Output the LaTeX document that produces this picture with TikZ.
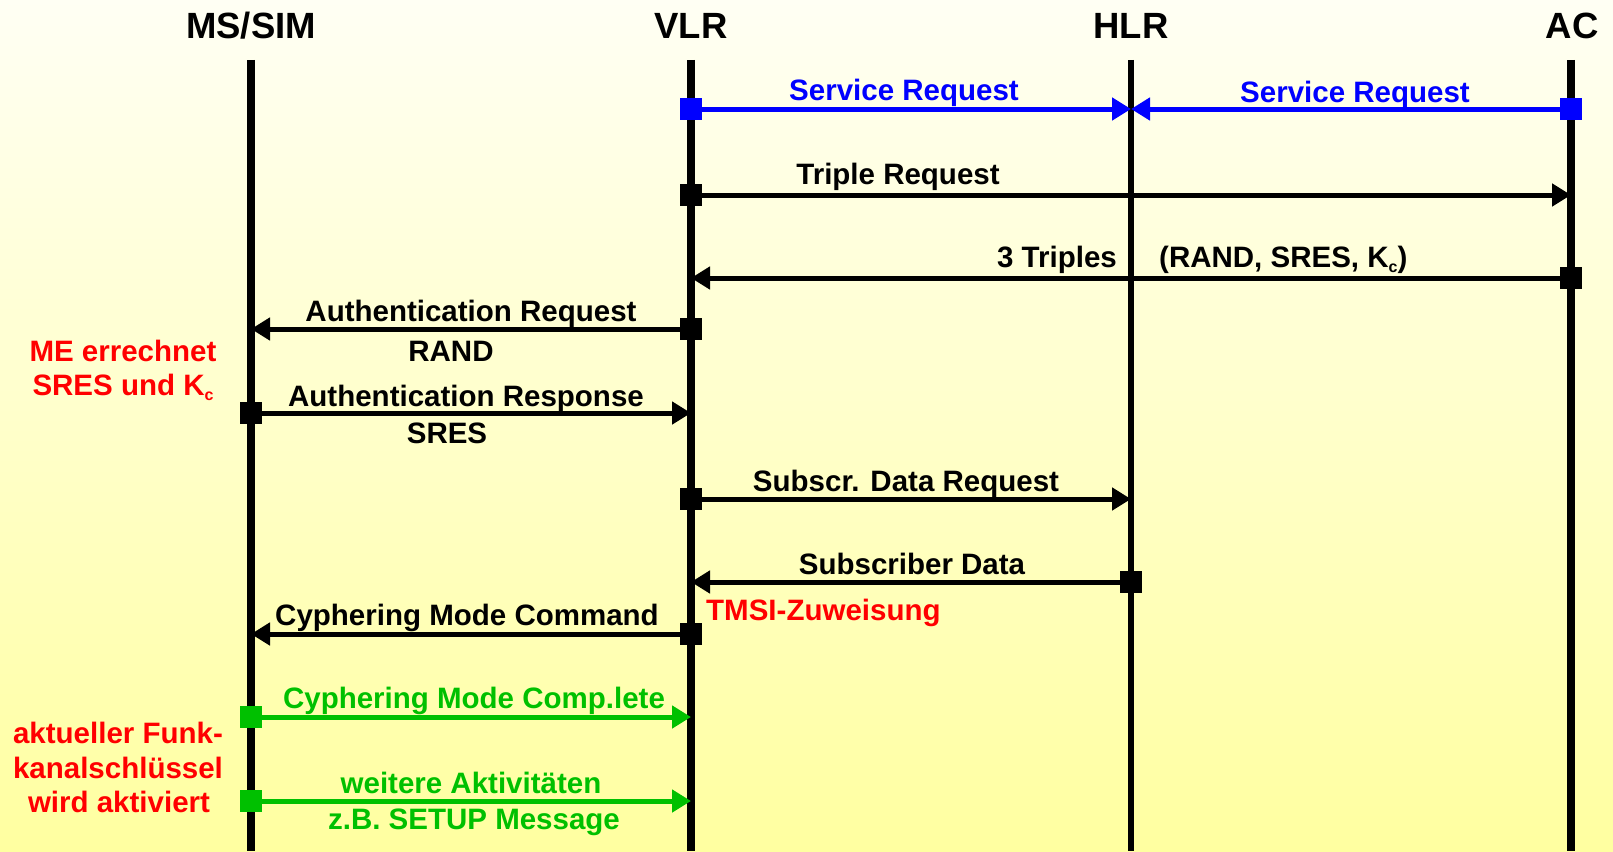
\documentclass[tikz,border=0pt]{standalone}
\usepackage{fontspec}
\setmainfont{Liberation Sans}
\usetikzlibrary{arrows.meta}
\definecolor{myblue}{RGB}{0,0,255}
\definecolor{mygreen}{RGB}{0,192,0}
\definecolor{myred}{RGB}{255,0,0}
\definecolor{bgtop}{RGB}{255,255,244}
\definecolor{bgmid}{RGB}{255,255,228}
\definecolor{bgbot}{RGB}{255,255,160}
\newcommand\Kc{K\raisebox{-0.35ex}{\fontsize{16}{16}\selectfont c}}
\begin{document}
\begin{tikzpicture}[x=1pt,y=-1pt,
  hdr/.style={font=\fontsize{36.5}{40}\selectfont\bfseries, anchor=base, inner sep=0},
  lbl/.style={font=\fontsize{29.5}{32}\selectfont\bfseries, anchor=base, inner sep=0},
  life/.style={line width=7.5pt},
  msg/.style={line width=5pt, -{Triangle[length=19pt,width=22pt]}},
  sq/.style={fill, minimum size=22pt, inner sep=0, draw=none},
]
\shade[top color=bgtop, middle color=bgmid, bottom color=bgbot] (0,0) rectangle (1613,851);
\useasboundingbox (0,0) rectangle (1613,851);

% headers
\node[hdr] (hMS) at (251,38) {MS/SIM};
\node[hdr] (hVLR) at (691,38) {VLR};
\node[hdr] (hHLR) at (1131,38) {HLR};
\node[hdr] (hAC) at (1572,38) {AC};

% lifelines
\coordinate (msT) at (251,60);  \coordinate (msB) at (251,851);
\coordinate (vlrT) at (691,60); \coordinate (vlrB) at (691,851);
\coordinate (hlrT) at (1131,60); \coordinate (hlrB) at (1131,851);
\coordinate (acT) at (1571,60); \coordinate (acB) at (1571,851);
\draw[life] (msT) -- (msB);
\draw[life] (vlrT) -- (vlrB);
\draw[line width=6pt] (hlrT) -- (hlrB);
\draw[life] (acT) -- (acB);

% 1 Service Request VLR -> HLR
\node[sq, myblue] (s1) at (691,109) {};
\coordinate (e1) at (1131,109);
\draw[msg, myblue] (s1.center) -- (e1);
\node[lbl, myblue] (l1) at (904,100) {Service Request};

% 2 Service Request AC -> HLR
\node[sq, myblue] (s2) at (1571,109) {};
\coordinate (e2) at (1131,109);
\draw[msg, myblue] (s2.center) -- (e2);
\node[lbl, myblue] (l2) at (1355,102) {Service Request};

% 3 Triple Request VLR -> AC
\node[sq] (s3) at (691,195) {};
\coordinate (e3) at (1571,195);
\draw[msg] (s3.center) -- (e3);
\node[lbl] (l3) at (898,184) {Triple Request};

% 4 3 Triples AC -> VLR
\node[sq] (s4) at (1571,278) {};
\coordinate (e4) at (691,278);
\draw[msg] (s4.center) -- (e4);
\node[lbl, anchor=base east] (l4a) at (1117,267) {3 Triples};
\node[lbl, anchor=base west] (l4b) at (1159,267) {(RAND, SRES, \Kc)};

% 5 Authentication Request VLR -> MS
\node[sq] (s5) at (691,329) {};
\coordinate (e5) at (251,329);
\draw[msg] (s5.center) -- (e5);
\node[lbl] (l5a) at (471,321) {Authentication Request};
\node[lbl] (l5b) at (451,361) {RAND};

% 6 Authentication Response MS -> VLR
\node[sq] (s6) at (251,413) {};
\coordinate (e6) at (691,413);
\draw[msg] (s6.center) -- (e6);
\node[lbl] (l6a) at (466,406) {Authentication Response};
\node[lbl] (l6b) at (447,443) {SRES};

% 7 Subscr. Data Request VLR -> HLR
\node[sq] (s7) at (691,499) {};
\coordinate (e7) at (1131,499);
\draw[msg] (s7.center) -- (e7);
\node[lbl] (l7) at (906,491) {Subscr. Data Request};

% 8 Subscriber Data HLR -> VLR
\node[sq] (s8) at (1131,582) {};
\coordinate (e8) at (691,582);
\draw[msg] (s8.center) -- (e8);
\node[lbl] (l8) at (912,574) {Subscriber Data};
\node[lbl, myred, anchor=base west] (l8b) at (706,620) {TMSI-Zuweisung};

% 9 Cyphering Mode Command VLR -> MS
\node[sq] (s9) at (691,634) {};
\coordinate (e9) at (251,634);
\draw[msg] (s9.center) -- (e9);
\node[lbl] (l9) at (467,625) {Cyphering Mode Command};

% 10 Cyphering Mode Complete MS -> VLR
\node[sq, mygreen] (s10) at (251,717) {};
\coordinate (e10) at (691,717);
\draw[msg, mygreen] (s10.center) -- (e10);
\node[lbl, mygreen] (l10) at (474,708) {Cyphering Mode Comp.lete};

% 11 weitere Aktivitaeten MS -> VLR
\node[sq, mygreen] (s11) at (251,801) {};
\coordinate (e11) at (691,801);
\draw[msg, mygreen] (s11.center) -- (e11);
\node[lbl, mygreen] (l11a) at (471,793) {weitere Aktivitäten};
\node[lbl, mygreen] (l11b) at (474,829) {z.B. SETUP Message};

% red notes
\node[lbl, myred] (n1a) at (123,361) {ME errechnet};
\node[lbl, myred] (n1b) at (123,395) {SRES und \Kc};
\node[lbl, myred] (n2a) at (118,743) {aktueller Funk-};
\node[lbl, myred] (n2b) at (118,778) {kanalschlüssel};
\node[lbl, myred] (n2c) at (119,812) {wird aktiviert};
\end{tikzpicture}
\end{document}
